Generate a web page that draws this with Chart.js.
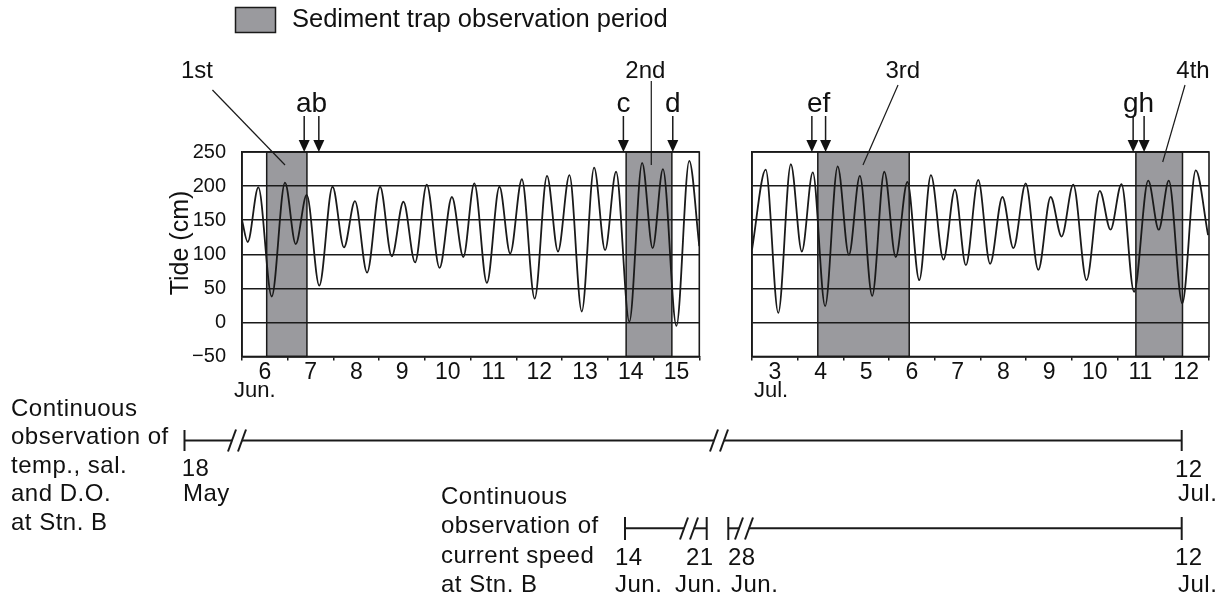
<!DOCTYPE html>
<html lang="en">
  <head>
    <meta charset="UTF-8" />
    <title>Tide and sediment trap observation periods</title>
    <script src="https://cdn.jsdelivr.net/npm/chart.js"></script>
    <style>
      body { margin: 0; background: #fff; }
      #wrap { position: relative; width: 1225px; height: 605px; overflow: hidden; }
      canvas, svg { position: absolute; top: 0; }
      #jun { left: 0; }
      #jul { left: 720px; }
      svg { left: 0; }
      svg text { font-family: "Liberation Sans", Arial, sans-serif; font-size: 24px; fill: #111; letter-spacing: 0.5px; }
      svg line { stroke: #1a1a1a; stroke-width: 2; }
    </style>
  </head>
  <body>
    <div id="wrap">
      <canvas id="jun" width="720" height="420"></canvas>
      <canvas id="jul" width="505" height="420"></canvas>
      <svg width="1225" height="605">
        <!-- temp., sal. and D.O. : 18 May - 12 Jul. -->
        <text x="11" y="416">Continuous</text>
        <text x="11" y="444">observation of</text>
        <text x="11" y="472.5">temp., sal.</text>
        <text x="11" y="501">and D.O.</text>
        <text x="11" y="529.5">at Stn. B</text>
        <line x1="184.5" y1="430" x2="184.5" y2="451" />
        <line x1="184.5" y1="440.5" x2="232" y2="440.5" />
        <line x1="228" y1="451.5" x2="236" y2="429.5" />
        <line x1="238" y1="451.5" x2="246" y2="429.5" />
        <line x1="242" y1="440.5" x2="714" y2="440.5" />
        <line x1="710" y1="451.5" x2="718" y2="429.5" />
        <line x1="720" y1="451.5" x2="728" y2="429.5" />
        <line x1="724" y1="440.5" x2="1181.7" y2="440.5" />
        <line x1="1181.7" y1="430" x2="1181.7" y2="451" />
        <text x="181.7" y="476">18</text>
        <text x="183" y="501">May</text>
        <text x="1175" y="477">12</text>
        <text x="1178" y="501">Jul.</text>

        <!-- current speed -->
        <text x="441" y="504">Continuous</text>
        <text x="441" y="533">observation of</text>
        <text x="441" y="563">current speed</text>
        <text x="441" y="592">at Stn. B</text>
        <line x1="625" y1="517" x2="625" y2="540" />
        <line x1="625" y1="528.3" x2="684" y2="528.3" />
        <line x1="680" y1="539.5" x2="688" y2="517.5" />
        <line x1="690" y1="539.5" x2="698" y2="517.5" />
        <line x1="694" y1="528.3" x2="706.7" y2="528.3" />
        <line x1="706.7" y1="517" x2="706.7" y2="540" />
        <line x1="728.3" y1="517" x2="728.3" y2="540" />
        <line x1="728.3" y1="528.3" x2="739" y2="528.3" />
        <line x1="735" y1="539.5" x2="743" y2="517.5" />
        <line x1="745" y1="539.5" x2="753" y2="517.5" />
        <line x1="749" y1="528.3" x2="1181.7" y2="528.3" />
        <line x1="1181.7" y1="517" x2="1181.7" y2="540" />
        <text x="615" y="565">14</text>
        <text x="615" y="592">Jun.</text>
        <text x="686" y="565">21</text>
        <text x="675" y="592">Jun.</text>
        <text x="728" y="565">28</text>
        <text x="731" y="592">Jun.</text>
        <text x="1175" y="565">12</text>
        <text x="1178" y="592">Jul.</text>
      </svg>
    </div>
    <script>
      Chart.defaults.font.family = "'Liberation Sans', Arial, sans-serif";
      const INK = "#1a1a1a";
      const SHADE = "#9a9a9e";

      // hourly tide read as turning points (day of month, cm)
      const junDays = [6.0, 6.125, 6.357, 6.65, 6.94, 7.175, 7.415, 7.69, 7.98, 8.23, 8.47, 8.735, 9.02, 9.275, 9.53, 9.785, 10.04, 10.32, 10.59, 10.84, 11.08, 11.355, 11.63, 11.865, 12.12, 12.4, 12.67, 12.91, 13.16, 13.43, 13.7, 13.94, 14.18, 14.47, 14.75, 14.98, 15.205, 15.5, 15.78, 16.0];
      const junTide = [150, 118, 198, 38, 205, 115, 187, 54, 199, 110, 178, 73, 199, 97, 177, 88, 202, 80, 184, 96, 204, 58, 199, 101, 210, 35, 215, 104, 216, 16, 227, 106, 221, 1, 234, 109, 225, -5, 237, 112];
      const julDays = [3.0, 3.3, 3.575, 3.85, 4.09, 4.33, 4.6, 4.875, 5.12, 5.36, 5.63, 5.895, 6.145, 6.4, 6.66, 6.915, 7.19, 7.44, 7.68, 7.95, 8.21, 8.48, 8.72, 8.99, 9.265, 9.535, 9.775, 10.03, 10.32, 10.61, 10.845, 11.085, 11.36, 11.67, 11.9, 12.12, 12.415, 12.71, 12.98];
      const julTide = [107, 224, 14, 232, 104, 220, 24, 229, 99, 215, 39, 221, 96, 206, 62, 216, 92, 195, 84, 209, 86, 184, 109, 204, 77, 184, 126, 202, 62, 193, 136, 203, 45, 208, 136, 208, 28, 223, 128];

      const junTickLabels = ["6", "7", "8", "9", "10", "11", "12", "13", "14", "15"];
      const julTickLabels = ["3", "4", "5", "6", "7", "8", "9", "10", "11", "12"];

      // sediment trap observation periods
      const junTrapStart = [6.54, 14.4];
      const junTrapEnd = [7.42, 15.4];
      const julTrapStart = [4.44, 11.4];
      const julTrapEnd = [6.44, 12.42];
      const junPeriodNames = ["1st", "2nd"];
      const julPeriodNames = ["3rd", "4th"];

      // sampling times a-h
      const junArrowDays = [7.36, 7.68, 14.34, 15.42];
      const julArrowDays = [4.31, 4.61, 11.34, 11.58];
      const junArrowText = ["ab", "c", "d"];
      const junArrowTextDays = [7.52, 14.34, 15.42];
      const julArrowText = ["ef", "gh"];
      const julArrowTextDays = [4.46, 11.46];

      // callout line layout: text x (day), line from (day, px) to (day, px)
      const junCallouts = [
        { tx: 5.015, x0: 5.354, y0: 90, x1: 6.941, y1: 165 },
        { tx: 14.82, x0: 14.95, y0: 81, x1: 14.95, y1: 165 },
      ];
      const julCallouts = [
        { tx: 6.3, x0: 6.195, y0: 85, x1: 5.429, y1: 165 },
        { tx: 12.65, x0: 12.475, y0: 85, x1: 11.987, y1: 162 },
      ];

      function panelPlugin(p) {
        return {
          id: "panel",
          beforeDraw(chart) {
            const { ctx, chartArea: a, scales: { x } } = chart;
            ctx.save();
            ctx.fillStyle = SHADE;
            ctx.strokeStyle = INK;
            ctx.lineWidth = 1.5;
            p.trapStart.forEach((s, i) => {
              const x0 = x.getPixelForValue(s);
              const x1 = x.getPixelForValue(p.trapEnd[i]);
              ctx.fillRect(x0, a.top, x1 - x0, a.bottom - a.top);
              ctx.strokeRect(x0, a.top, x1 - x0, a.bottom - a.top);
            });
            ctx.restore();
          },
          afterDraw(chart) {
            const { ctx, chartArea: a, scales: { x } } = chart;
            ctx.save();
            ctx.strokeStyle = INK;
            ctx.fillStyle = "#111";
            ctx.lineWidth = 1.6;
            ctx.strokeRect(a.left, a.top, a.right - a.left, a.bottom - a.top);

            // arrows
            ctx.lineWidth = 1.5;
            p.arrowDays.forEach((d) => {
              const px = x.getPixelForValue(d);
              ctx.beginPath();
              ctx.moveTo(px, 116);
              ctx.lineTo(px, 141);
              ctx.stroke();
              ctx.beginPath();
              ctx.moveTo(px - 5.5, 140);
              ctx.lineTo(px + 5.5, 140);
              ctx.lineTo(px, a.top);
              ctx.closePath();
              ctx.fill();
            });
            ctx.font = "28px 'Liberation Sans', Arial, sans-serif";
            ctx.textAlign = "center";
            ctx.textBaseline = "alphabetic";
            p.arrowText.forEach((t, i) => {
              ctx.fillText(t, x.getPixelForValue(p.arrowTextDays[i]), 112);
            });

            // period callouts
            ctx.lineWidth = 1.2;
            ctx.font = "24px 'Liberation Sans', Arial, sans-serif";
            p.callouts.forEach((c, i) => {
              ctx.fillText(p.periodNames[i], x.getPixelForValue(c.tx), 78);
              ctx.beginPath();
              ctx.moveTo(x.getPixelForValue(c.x0), c.y0);
              ctx.lineTo(x.getPixelForValue(c.x1), c.y1);
              ctx.stroke();
            });

            // month under the day ticks
            ctx.textAlign = "left";
            ctx.font = "22px 'Liberation Sans', Arial, sans-serif";
            ctx.fillText(p.month, a.left + p.monthShift, 397);

            if (p.legend) {
              ctx.fillStyle = SHADE;
              ctx.fillRect(235.5, 7.5, 40, 25);
              ctx.lineWidth = 1.5;
              ctx.strokeRect(235.5, 7.5, 40, 25);
              ctx.fillStyle = "#111";
              ctx.font = "25.5px 'Liberation Sans', Arial, sans-serif";
              ctx.fillText("Sediment trap observation period", 292, 27);

              ctx.save();
              ctx.translate(181, 243);
              ctx.rotate(-Math.PI / 2);
              ctx.textAlign = "center";
              ctx.textBaseline = "middle";
              ctx.font = "25px 'Liberation Sans', Arial, sans-serif";
              ctx.fillText("Tide (cm)", 0, 0);
              ctx.restore();
            }
            ctx.restore();
          },
        };
      }

      function drawPanel(canvasId, days, tide, tickLabels, p, padding, yWidth, showY) {
        const first = Number(tickLabels[0]);
        const config = {
          type: "line",
          data: {
            datasets: [
              {
                data: days.map((d, i) => ({ x: d, y: tide[i] })),
                borderColor: INK,
                borderWidth: 1.8,
                pointRadius: 0,
                cubicInterpolationMode: "monotone",
                fill: false,
              },
            ],
          },
          options: {
            responsive: false,
            animation: false,
            devicePixelRatio: 1,
            layout: { padding: padding },
            plugins: { legend: { display: false }, tooltip: { enabled: false } },
            scales: {
              x: {
                type: "linear",
                min: first,
                max: first + tickLabels.length,
                afterFit: (s) => { s.height = 420 - 356.5; },
                ticks: {
                  stepSize: 1,
                  autoSkip: false,
                  maxRotation: 0,
                  labelOffset: 22.85,
                  padding: -2,
                  color: "#111",
                  font: { size: 23 },
                  callback: (v) => tickLabels[v - first] || "",
                },
                grid: { drawOnChartArea: false, tickLength: 4, color: INK, lineWidth: 1.5 },
                border: { color: INK, width: 1.6 },
              },
              y: {
                min: -50,
                max: 250,
                afterFit: (s) => { s.width = yWidth; },
                ticks: {
                  display: showY,
                  stepSize: 50,
                  padding: 16,
                  color: "#111",
                  font: { size: 20 },
                  callback: (v) => String(v).replace("-", "\u2212"),
                },
                grid: { color: INK, lineWidth: 1.5, drawTicks: false },
                border: { color: INK, width: 1.6 },
              },
            },
          },
          plugins: [panelPlugin(p)],
        };
        return new Chart(document.getElementById(canvasId), config);
      }

      drawPanel("jun", junDays, junTide, junTickLabels, {
        trapStart: junTrapStart, trapEnd: junTrapEnd, periodNames: junPeriodNames,
        arrowDays: junArrowDays, arrowText: junArrowText, arrowTextDays: junArrowTextDays,
        callouts: junCallouts, month: "Jun.", monthShift: -8, legend: true,
      }, { left: 150, right: 20.7, top: 152, bottom: 0 }, 92, true);

      drawPanel("jul", julDays, julTide, julTickLabels, {
        trapStart: julTrapStart, trapEnd: julTrapEnd, periodNames: julPeriodNames,
        arrowDays: julArrowDays, arrowText: julArrowText, arrowTextDays: julArrowTextDays,
        callouts: julCallouts, month: "Jul.", monthShift: 2, legend: false,
      }, { left: 32, right: 16, top: 152, bottom: 0 }, 0, false);
    </script>
  </body>
</html>
